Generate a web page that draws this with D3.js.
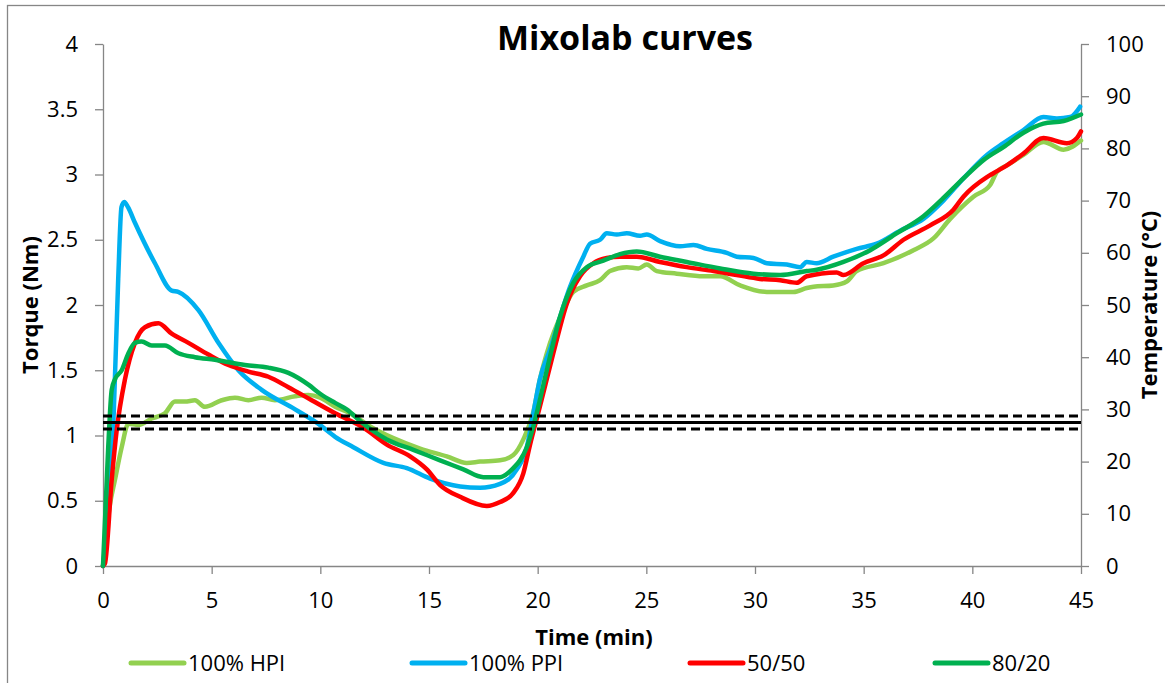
<!DOCTYPE html>
<html>
<head>
<meta charset="utf-8">
<script src="https://cdn.jsdelivr.net/npm/d3@7"></script>
<style>
  html, body { margin: 0; padding: 0; background: #fff; }
  svg { display: block; }
  text { font-family: "Open Sans", "Noto Sans", sans-serif; fill: #000; }
</style>
</head>
<body>
<svg id="chart" width="1165" height="683"></svg>
<script>
// ---------- data ----------
const title = "Mixolab curves";
const xTicks = [0, 5, 10, 15, 20, 25, 30, 35, 40, 45];
const yTicks = [0, 0.5, 1, 1.5, 2, 2.5, 3, 3.5, 4];
const y2Ticks = [0, 10, 20, 30, 40, 50, 60, 70, 80, 90, 100];
const seriesNames = ["100% HPI", "100% PPI", "50/50", "80/20"];
const seriesColors = ["#92D050", "#00B0F0", "#FF0000", "#00B050"];
const refSolid = [1.1];
const refDashed = [1.15, 1.05];

// [time (min), torque (Nm)]
const hpi = [[0,0],[0.09,0.15],[0.3,0.45],[0.55,0.66],[0.86,0.91],[1.17,1.09],[1.62,1.08],[2.24,1.13],[2.85,1.17],[3.31,1.26],[3.77,1.26],[4.23,1.27],[4.69,1.22],[5.46,1.27],[6.07,1.29],[6.69,1.27],[7.3,1.29],[7.91,1.27],[8.84,1.30],[9.45,1.31],[9.99,1.29],[10.68,1.22],[11.37,1.17],[12.29,1.07],[13.36,0.98],[14.59,0.90],[15.82,0.84],[16.74,0.79],[17.35,0.80],[18.27,0.81],[18.88,0.85],[19.34,0.97],[19.8,1.18],[20.1,1.43],[20.42,1.63],[21.18,1.96],[21.64,2.10],[22.26,2.15],[22.87,2.19],[23.33,2.26],[24.1,2.29],[24.63,2.28],[25.02,2.31],[25.48,2.26],[26.4,2.24],[27.63,2.22],[28.4,2.22],[29.32,2.15],[30.54,2.10],[31.77,2.10],[32.38,2.13],[32.69,2.14],[33.6,2.15],[34.22,2.18],[34.68,2.26],[35.91,2.32],[37.29,2.42],[38.21,2.51],[38.98,2.66],[40.05,2.83],[40.82,2.92],[41.13,3.02],[41.59,3.07],[42.35,3.15],[43.27,3.25],[44.2,3.19],[45,3.26]];
const ppi = [[0,0],[0.2,0.3],[0.5,1.2],[0.7,2.2],[0.85,2.75],[0.98,2.79],[1.15,2.75],[1.47,2.63],[2.39,2.32],[3.16,2.11],[3.46,2.10],[4.39,1.96],[5.31,1.71],[6.23,1.50],[7.3,1.35],[8.84,1.20],[9.99,1.08],[10.68,0.99],[11.52,0.91],[12.9,0.79],[13.98,0.75],[15.05,0.67],[16.43,0.61],[17.35,0.60],[18.27,0.63],[19.04,0.74],[19.5,0.91],[19.8,1.17],[20.1,1.43],[20.57,1.66],[21.49,2.14],[22.1,2.37],[22.41,2.47],[22.87,2.50],[23.18,2.55],[23.64,2.54],[24.1,2.55],[24.71,2.53],[25.02,2.54],[25.63,2.49],[26.55,2.45],[27.17,2.46],[27.78,2.43],[28.7,2.40],[29.16,2.37],[29.93,2.36],[30.54,2.32],[31.46,2.31],[32.08,2.29],[32.38,2.33],[32.84,2.32],[33.6,2.37],[34.68,2.43],[35.6,2.47],[36.68,2.57],[37.75,2.66],[38.67,2.80],[39.59,2.97],[40.67,3.15],[41.43,3.24],[42.35,3.34],[43.27,3.44],[43.89,3.43],[44.5,3.44],[44.96,3.52]];
const mix5050 = [[0,0],[0.09,0.02],[0.4,0.66],[0.63,1.04],[1.01,1.43],[1.47,1.71],[1.93,1.83],[2.55,1.86],[3.16,1.78],[3.93,1.71],[4.85,1.62],[5.77,1.54],[6.69,1.49],[7.61,1.45],[8.53,1.37],[9.6,1.27],[10.68,1.17],[11.98,1.06],[13.06,0.93],[14.13,0.84],[14.9,0.74],[15.51,0.62],[16.43,0.53],[17.66,0.46],[18.27,0.49],[18.88,0.56],[19.34,0.71],[19.65,0.93],[20.1,1.22],[20.72,1.63],[21.34,2.01],[21.95,2.22],[22.56,2.32],[23.18,2.36],[23.79,2.37],[24.56,2.37],[25.63,2.33],[26.86,2.29],[28.09,2.26],[29.16,2.23],[30.23,2.20],[31.16,2.19],[31.92,2.17],[32.38,2.22],[33.76,2.25],[34.07,2.23],[34.99,2.32],[35.91,2.38],[36.83,2.50],[38.06,2.61],[39.13,2.73],[39.59,2.83],[40.67,2.98],[40.97,3.01],[41.59,3.07],[42.35,3.16],[43.27,3.28],[44.35,3.24],[44.81,3.28],[45,3.33]];
const mix8020 = [[0,0],[0.24,0.91],[0.4,1.35],[0.55,1.43],[0.86,1.50],[1.17,1.63],[1.47,1.71],[1.78,1.72],[2.24,1.69],[2.85,1.69],[3.47,1.63],[4.23,1.60],[5.15,1.58],[6.53,1.54],[7.61,1.52],[8.53,1.48],[9.45,1.39],[9.99,1.32],[10.68,1.25],[11.21,1.20],[11.98,1.09],[13.06,0.97],[14.28,0.89],[15.51,0.81],[16.58,0.74],[17.5,0.68],[18.27,0.68],[18.88,0.75],[19.19,0.81],[19.5,0.91],[19.8,1.07],[20.42,1.50],[21.03,1.91],[21.64,2.17],[22.26,2.29],[23.02,2.34],[23.79,2.39],[24.56,2.41],[25.63,2.37],[26.86,2.33],[28.4,2.28],[29.93,2.24],[31.16,2.23],[32.38,2.26],[32.84,2.27],[34.07,2.33],[35.3,2.42],[36.53,2.55],[37.75,2.68],[38.67,2.82],[39.59,2.97],[40.51,3.11],[41.43,3.21],[42.35,3.32],[43.27,3.39],[44.2,3.41],[45,3.46]];
const seriesData = [hpi, ppi, mix5050, mix8020];

// ---------- layout ----------
const svg = d3.select("#chart");
const plot = { left: 103, right: 1081, top: 44, bottom: 566 };
const axisColor = "#868686";

const x = d3.scaleLinear().domain([0, 45]).range([plot.left, plot.right]);
const y = d3.scaleLinear().domain([0, 4]).range([plot.bottom, plot.top]);
const y2 = d3.scaleLinear().domain([0, 100]).range([plot.bottom, plot.top]);

// outer border
svg.append("rect").attr("x", 7.5).attr("y", 5.5).attr("width", 1200).attr("height", 700)
  .attr("fill", "none").attr("stroke", axisColor).attr("stroke-width", 1.3);

function styleAxis(g) {
  g.select(".domain").attr("stroke", axisColor).attr("stroke-width", 1.3);
  g.selectAll(".tick line").attr("stroke", axisColor).attr("stroke-width", 1.3);
  g.selectAll(".tick text").attr("font-size", 22).attr("fill", "#000")
    .attr("font-family", '"Open Sans", sans-serif');
}

svg.append("g").attr("transform", `translate(0,${plot.bottom})`)
  .call(d3.axisBottom(x).tickValues(xTicks).tickFormat(d3.format("d")).tickSize(8).tickSizeOuter(0).tickPadding(18))
  .call(styleAxis);
svg.append("g").attr("transform", `translate(${plot.left},0)`)
  .call(d3.axisLeft(y).tickValues(yTicks).tickFormat(d => d3.format("")(d)).tickSize(8).tickSizeOuter(0).tickPadding(17))
  .call(styleAxis);
svg.append("g").attr("transform", `translate(${plot.right},0)`)
  .call(d3.axisRight(y2).tickValues(y2Ticks).tickFormat(d3.format("d")).tickSize(8).tickSizeOuter(0).tickPadding(17))
  .call(styleAxis);

// series
const line = d3.line().x(d => x(d[0])).y(d => y(d[1])).curve(d3.curveMonotoneX);
seriesData.forEach((s, i) => {
  svg.append("path").datum(s).attr("d", line)
    .attr("fill", "none").attr("stroke", seriesColors[i]).attr("stroke-width", 4.5)
    .attr("stroke-linejoin", "round").attr("stroke-linecap", "round");
});

// reference lines
refSolid.forEach(v => {
  svg.append("line").attr("x1", x(0)).attr("x2", x(45)).attr("y1", y(v)).attr("y2", y(v))
    .attr("stroke", "#000").attr("stroke-width", 3);
});
refDashed.forEach(v => {
  svg.append("line").attr("x1", x(0)).attr("x2", x(45)).attr("y1", y(v)).attr("y2", y(v))
    .attr("stroke", "#000").attr("stroke-width", 3).attr("stroke-dasharray", "9,5");
});

// titles
svg.append("text").attr("x", 625).attr("y", 50).attr("text-anchor", "middle")
  .attr("font-size", 34).attr("font-weight", "bold").text(title);
svg.append("text").attr("x", (plot.left + plot.right) / 2 + 2).attr("y", 645).attr("text-anchor", "middle")
  .attr("font-size", 22).attr("font-weight", "bold").text("Time (min)");
svg.append("text").attr("transform", `translate(38,${(plot.top + plot.bottom) / 2}) rotate(-90)`)
  .attr("text-anchor", "middle").attr("font-size", 22).attr("font-weight", "bold").text("Torque (Nm)");
svg.append("text").attr("transform", `translate(1157,${(plot.top + plot.bottom) / 2}) rotate(-90)`)
  .attr("text-anchor", "middle").attr("font-size", 22).attr("font-weight", "bold").text("Temperature (°C)");

// legend
const legendX = [131, 412, 690, 935];
const legY = 663;
seriesNames.forEach((name, i) => {
  const g = svg.append("g").attr("transform", `translate(${legendX[i]},${legY})`);
  g.append("line").attr("x1", 0).attr("x2", 53).attr("y1", 0).attr("y2", 0)
    .attr("stroke", seriesColors[i]).attr("stroke-width", 5).attr("stroke-linecap", "round");
  g.append("text").attr("x", 57).attr("y", 0).attr("dy", "0.36em").attr("font-size", 22).text(name);
});
</script>
</body>
</html>
